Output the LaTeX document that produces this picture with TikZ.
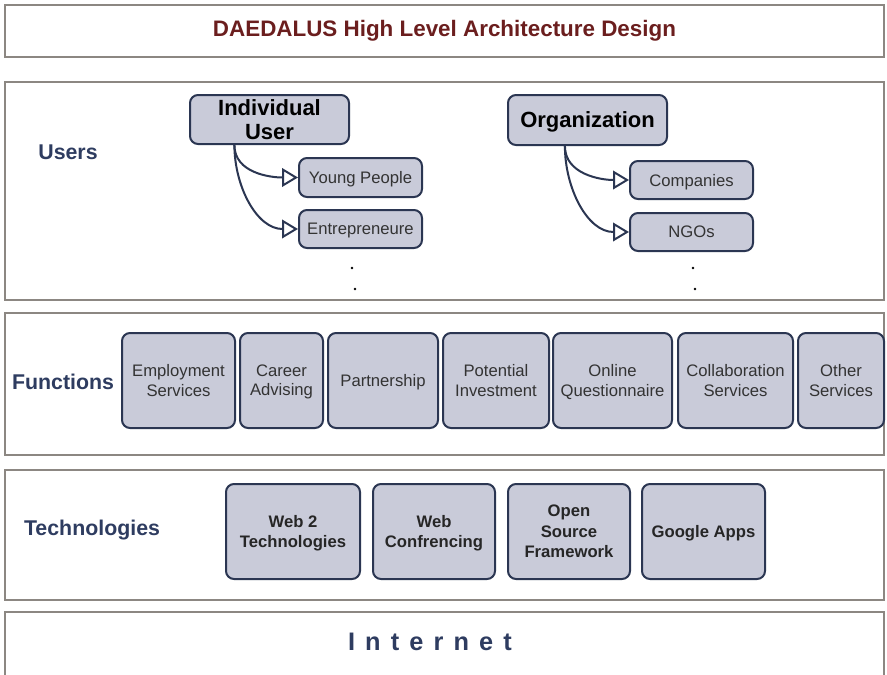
\documentclass[tikz,border=0pt]{standalone}
\usepackage{fontspec}
\setmainfont{Liberation Sans}
\usepackage{tikz}
\usetikzlibrary{positioning,shapes,arrows.meta}

\definecolor{framegray}{HTML}{8C8782}
\definecolor{boxfill}{HTML}{C9CBD9}
\definecolor{boxline}{HTML}{2B3652}
\definecolor{layerblue}{HTML}{2E3C60}
\definecolor{titlered}{HTML}{6B1E1E}
\definecolor{textgray}{HTML}{333333}

\tikzset{
  wd/.style={minimum width=#1*0.75pt},
  ht/.style={minimum height=#1*0.75pt},
  frame/.style={draw=framegray, line width=1.5pt, inner sep=0pt},
  layer/.style={text=layerblue, font=\bfseries\fontsize{16}{18}\selectfont},
  userbox/.style={draw=boxline, fill=boxfill, line width=1.5pt, rounded corners=6pt, inner sep=0pt, text depth=0pt, align=center},
  funcbox/.style={userbox, ht=95, text=textgray, font=\fontsize{12.5}{14.5}\selectfont},
  techbox/.style={userbox, ht=95, text=black!85, font=\bfseries\fontsize{12.5}{15.5}\selectfont},
  branch/.style={draw=boxline, line width=1.5pt, -{Triangle[length=12pt, width=14pt, fill=white]}}
}

\begin{document}
\begin{tikzpicture}[x=0.75pt, y=-0.75pt]
		\useasboundingbox (0,0) rectangle (887,674);
		% layers
		\node[frame, wd=879, ht=52, text=titlered, font=\bfseries\fontsize{16.8}{19}\selectfont] (title) at (444.5,31) {DAEDALUS High Level Architecture Design};
		\node[frame, wd=879, ht=218] (usersframe) at (444.5,191) {};
		\node[frame, wd=879, ht=142] (funcframe) at (444.5,384) {};
		\node[frame, wd=879, ht=130] (techframe) at (444.5,535) {};
		\node[frame, wd=879, ht=80] (netframe) at (444.5,652) {};

		\node[layer] (users) at (68,152) {Users};
		\node[layer] (functions) at (63,382) {Functions};
		\node[layer] (technologies) at (92,530) {Technologies};

		% users
		\node[userbox, wd=159, ht=49, font=\bfseries\fontsize{16.5}{17.5}\selectfont] (indiv) at (269.5,119.5) {Individual\\User};
		\node[userbox, wd=123, ht=39, text=textgray, font=\fontsize{12.5}{14}\selectfont] (young) at (360.5,177.5) {Young People};
		\node[userbox, wd=123, ht=38, text=textgray, font=\fontsize{12.5}{14}\selectfont] (entre) at (360.5,229) {Entrepreneure};
		\node[userbox, wd=159, ht=50, font=\bfseries\fontsize{16.5}{17.5}\selectfont] (org) at (587.5,120) {Organization};
		\node[userbox, wd=123, ht=38, text=textgray, font=\fontsize{12.5}{14}\selectfont] (comp) at (691.5,180) {Companies};
		\node[userbox, wd=123, ht=38, text=textgray, font=\fontsize{12.5}{14}\selectfont] (ngo) at (691.5,232) {NGOs};

		\draw[branch] (indiv.216) to[out=-90, in=180] (young.west);
		\draw[branch] (indiv.216) to[out=-90, in=180] (entre.west);
		\draw[branch] (org.229) to[out=-90, in=180] (comp.west);
		\draw[branch] (org.229) to[out=-90, in=180] (ngo.west);

		\foreach \x/\y in {352/268, 355/289, 693/268, 695/289}
			\fill (\x,\y) circle (1.1pt);

		% functions
		\node[funcbox, wd=113] (employ) at (178.5,380.5) {Employment\\Services};
		\node[funcbox, wd=83] (career) at (281.5,380.5) {Career\\Advising};
		\node[funcbox, wd=110] (partner) at (383,380.5) {Partnership};
		\node[funcbox, wd=106] (invest) at (496,380.5) {Potential\\Investment};
		\node[funcbox, wd=119] (quest) at (612.5,380.5) {Online\\Questionnaire};
		\node[funcbox, wd=115] (collab) at (735.5,380.5) {Collaboration\\Services};
		\node[funcbox, wd=86] (other) at (841,380.5) {Other\\Services};

		% technologies
		\node[techbox, wd=134] (webtwo) at (293,531.5) {Web 2\\Technologies};
		\node[techbox, wd=122] (webconf) at (434,531.5) {Web\\Confrencing};
		\node[techbox, wd=122] (opensrc) at (569,531.5) {Open\\Source\\Framework};
		\node[techbox, wd=123] (google) at (703.5,531.5) {Google Apps};

		% internet
		\node[text=layerblue, font=\bfseries\fontsize{19}{21}\selectfont\addfontfeatures{LetterSpace=40}] (internet) at (430,642) {Internet};
	\end{tikzpicture}
\end{document}
